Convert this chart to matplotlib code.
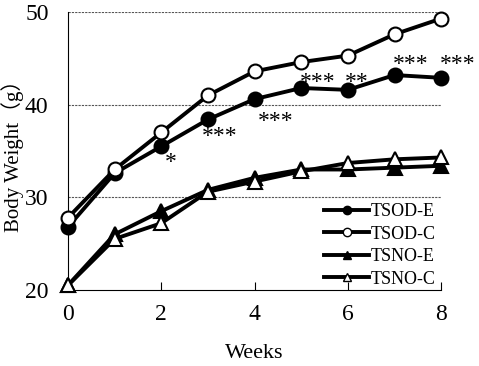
import numpy as np
import matplotlib.pyplot as plt

weeks = [0, 1, 2, 3, 4, 5, 6, 7, 8]
tsod_e = [26.8, 32.6, 35.5, 38.4, 40.6, 41.8, 41.6, 43.2, 42.9]
tsod_c = [27.8, 33.0, 37.0, 41.0, 43.6, 44.6, 45.3, 47.6, 49.3]
tsno_e = [20.5, 26.0, 28.5, 30.8, 32.1, 33.0, 33.0, 33.2, 33.4]
tsno_c = [20.5, 25.5, 27.2, 30.6, 31.7, 32.8, 33.7, 34.1, 34.3]

star_x = [2.2, 3.25, 4.45, 5.35, 6.2, 7.35, 8.35]
star_y = [33.8, 36.6, 38.2, 42.4, 42.4, 44.3, 44.3]
star_txt = ['*', '***', '***', '***', '**', '***', '***']

plt.rcParams['font.family'] = ['Liberation Serif', 'Noto Sans CJK JP']

fig = plt.figure(figsize=(4.79, 3.66), dpi=100)
ax = fig.add_axes([0.142, 0.208, 0.779, 0.759])

for v in [30, 40, 50]:
    ax.plot([0, 8], [v, v], color='#555555', lw=0.8, ls=(0, (2, 1)), zorder=0)

kw = dict(color='black', lw=2.8, ms=10, mec='black', mew=1.5, clip_on=False)
ax.plot(weeks, tsno_e, marker='^', mfc='black', label='TSNO-E', zorder=3, **kw)
ax.plot(weeks, tsno_c, marker='^', mfc='white', label='TSNO-C', zorder=4, **kw)
ax.plot(weeks, tsod_e, marker='o', mfc='black', label='TSOD-E', zorder=5, **kw)
ax.plot(weeks, tsod_c, marker='o', mfc='white', label='TSOD-C', zorder=6, **kw)

for x, y, t in zip(star_x, star_y, star_txt):
    ax.text(x, y, t, fontsize=17, ha='center', va='center')

ax.set_xlim(0, 8)
ax.set_ylim(20, 50)
ax.set_xticks([0, 2, 4, 6, 8])
ax.set_yticks([20, 30, 40, 50])
ax.tick_params(axis='x', direction='in', length=6, labelsize=17, pad=10)
ax.tick_params(axis='y', length=0, labelsize=17, pad=14)
ax.spines['top'].set_visible(False)
ax.spines['right'].set_visible(False)
ax.set_xlabel('Weeks', fontsize=16, labelpad=14)
ax.set_ylabel('Body Weight（g）', fontsize=15, labelpad=1)

h, l = ax.get_legend_handles_labels()
order = [2, 3, 0, 1]
leg_h = []
for i in order:
    hh = plt.Line2D([], [], color='black', lw=2.8, marker=h[i].get_marker(),
                    mfc=h[i].get_markerfacecolor(), mec='black', ms=6)
    leg_h.append(hh)
ax.legend(leg_h, [l[i] for i in order], loc='lower right', frameon=False,
          fontsize=13, handlelength=2.5, handletextpad=0.1, labelspacing=0.3,
          bbox_to_anchor=(1.03, -0.05))

fig.savefig('out.png', dpi=100)
